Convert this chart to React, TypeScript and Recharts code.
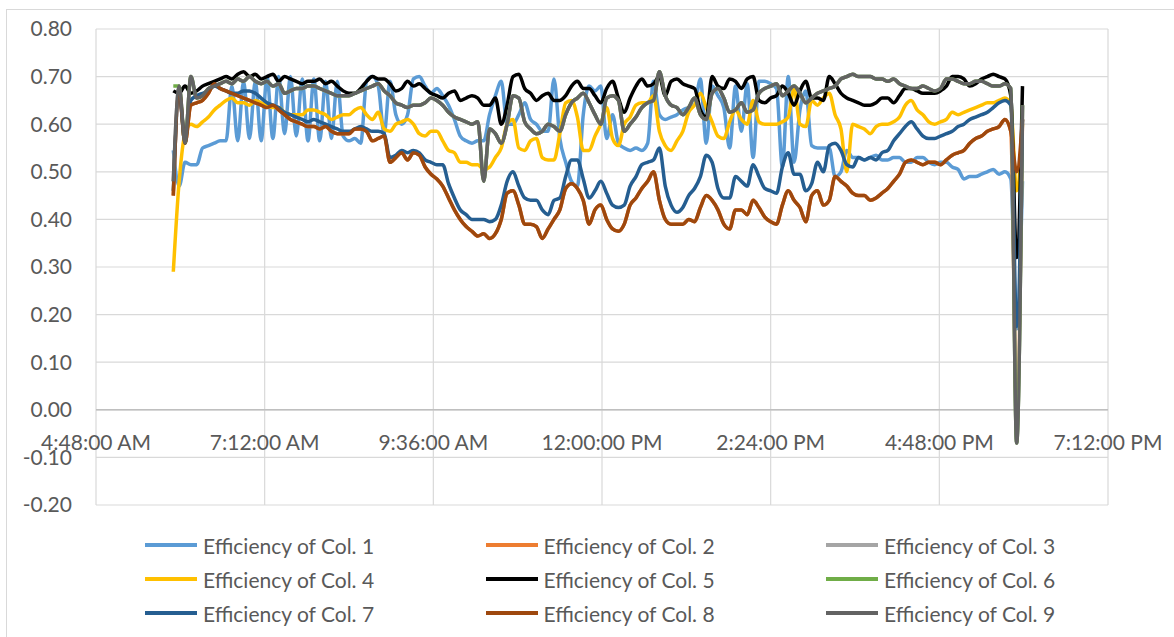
import React from 'react';
import { LineChart, Line, XAxis, YAxis, CartesianGrid, ReferenceLine, Legend } from 'recharts';

// sample times: minutes after midnight, one reading every 5 minutes from 5:54 AM
const START_MIN = 354;
const STEP_MIN = 5;

const col1 = [0.545,0.47,0.52,0.515,0.515,0.55,0.555,0.56,0.565,0.565,0.68,0.565,0.69,0.57,0.69,0.565,0.70,0.57,0.70,0.58,0.70,0.575,0.695,0.565,
  0.695,0.565,0.69,0.57,0.69,0.575,0.565,0.57,0.56,0.69,0.70,0.68,0.58,0.69,0.62,0.60,0.62,0.695,0.70,0.68,0.665,0.675,0.66,0.64,
  0.61,0.575,0.565,0.56,0.565,0.565,0.62,0.66,0.69,0.60,0.60,0.62,0.645,0.61,0.60,0.585,0.585,0.695,0.57,0.52,0.48,0.47,0.62,0.68,0.67,
  0.68,0.57,0.62,0.56,0.55,0.545,0.55,0.545,0.56,0.69,0.62,0.61,0.615,0.62,0.63,0.635,0.64,0.695,0.56,0.68,0.66,0.635,0.55,0.68,
  0.585,0.685,0.53,0.69,0.69,0.685,0.675,0.51,0.70,0.52,0.63,0.67,0.555,0.55,0.55,0.55,0.49,0.50,0.545,0.53,0.53,0.525,0.53,0.535,0.525,
  0.525,0.53,0.53,0.52,0.52,0.53,0.53,0.52,0.515,0.52,0.52,0.51,0.505,0.485,0.49,0.49,0.495,0.50,0.505,0.495,0.50,0.485,0.17,0.48];

const col2 = [0.45,0.67,0.56,0.64,0.645,0.65,0.665,0.685,0.675,0.67,0.665,0.66,0.655,0.65,0.645,0.64,0.635,0.64,0.63,0.62,0.61,0.605,0.60,0.595,
  0.595,0.59,0.595,0.585,0.58,0.58,0.58,0.59,0.59,0.585,0.565,0.57,0.575,0.52,0.53,0.54,0.525,0.54,0.535,0.51,0.495,0.485,0.47,0.445,
  0.42,0.40,0.385,0.375,0.365,0.37,0.36,0.37,0.40,0.455,0.46,0.43,0.39,0.39,0.385,0.36,0.38,0.40,0.42,0.465,0.475,0.465,0.44,0.39,0.42,
  0.43,0.40,0.38,0.375,0.39,0.43,0.445,0.465,0.48,0.50,0.44,0.40,0.39,0.39,0.39,0.40,0.395,0.425,0.45,0.44,0.42,0.39,0.38,0.42,
  0.42,0.41,0.44,0.425,0.405,0.395,0.39,0.43,0.46,0.44,0.425,0.395,0.45,0.46,0.43,0.44,0.49,0.48,0.47,0.455,0.45,0.45,0.44,0.445,0.455,
  0.465,0.48,0.495,0.52,0.525,0.52,0.515,0.52,0.52,0.515,0.525,0.535,0.54,0.545,0.56,0.57,0.575,0.585,0.59,0.595,0.61,0.585,0.0,0.61];

const col3 = [0.48,0.68,0.56,0.70,0.655,0.66,0.675,0.68,0.685,0.69,0.685,0.695,0.69,0.70,0.69,0.685,0.69,0.68,0.685,0.665,0.67,0.675,0.675,0.68,
  0.68,0.675,0.67,0.665,0.66,0.66,0.66,0.665,0.67,0.675,0.68,0.685,0.67,0.66,0.645,0.64,0.635,0.64,0.64,0.645,0.655,0.65,0.64,0.625,
  0.615,0.61,0.605,0.60,0.605,0.48,0.59,0.58,0.56,0.60,0.66,0.655,0.605,0.59,0.58,0.585,0.60,0.595,0.585,0.62,0.645,0.655,0.665,0.645,0.62,
  0.60,0.655,0.66,0.65,0.585,0.60,0.615,0.635,0.645,0.65,0.71,0.66,0.64,0.635,0.62,0.635,0.655,0.62,0.61,0.665,0.675,0.655,0.625,0.63,
  0.645,0.625,0.63,0.665,0.675,0.68,0.685,0.66,0.67,0.68,0.665,0.645,0.655,0.665,0.67,0.675,0.68,0.695,0.70,0.705,0.70,0.70,0.70,0.695,0.695,
  0.69,0.695,0.685,0.68,0.675,0.675,0.68,0.675,0.67,0.675,0.695,0.695,0.69,0.685,0.685,0.69,0.69,0.685,0.68,0.68,0.685,0.675,-0.07,0.64];

const col4 = [0.29,0.48,0.58,0.60,0.595,0.605,0.615,0.63,0.64,0.65,0.655,0.645,0.645,0.64,0.65,0.645,0.64,0.635,0.635,0.625,0.62,0.62,0.62,0.63,
  0.63,0.625,0.62,0.61,0.615,0.62,0.62,0.63,0.635,0.62,0.61,0.625,0.59,0.585,0.60,0.605,0.61,0.60,0.58,0.575,0.585,0.585,0.565,0.545,
  0.54,0.52,0.52,0.515,0.515,0.505,0.51,0.53,0.55,0.60,0.61,0.55,0.545,0.565,0.57,0.53,0.525,0.525,0.58,0.645,0.65,0.615,0.545,0.545,0.575,
  0.60,0.635,0.57,0.555,0.60,0.615,0.64,0.645,0.645,0.66,0.585,0.555,0.545,0.565,0.585,0.625,0.64,0.665,0.635,0.605,0.575,0.57,0.605,0.63,
  0.61,0.60,0.65,0.605,0.60,0.60,0.60,0.605,0.615,0.675,0.60,0.595,0.65,0.64,0.655,0.665,0.62,0.59,0.50,0.60,0.595,0.59,0.58,0.595,0.60,
  0.60,0.605,0.615,0.64,0.65,0.63,0.62,0.605,0.60,0.605,0.61,0.625,0.62,0.625,0.63,0.635,0.64,0.645,0.645,0.65,0.655,0.64,0.46,0.60];

const col5 = [0.67,0.665,0.68,0.665,0.67,0.68,0.685,0.69,0.695,0.70,0.695,0.705,0.71,0.70,0.705,0.695,0.70,0.705,0.69,0.70,0.695,0.69,0.685,0.69,
  0.69,0.695,0.685,0.69,0.68,0.67,0.665,0.665,0.675,0.69,0.70,0.695,0.695,0.685,0.67,0.675,0.69,0.68,0.685,0.675,0.665,0.66,0.655,0.665,
  0.67,0.65,0.655,0.66,0.655,0.64,0.64,0.655,0.60,0.64,0.70,0.705,0.675,0.665,0.65,0.66,0.665,0.65,0.65,0.66,0.68,0.69,0.675,0.675,0.66,
  0.645,0.675,0.69,0.655,0.625,0.655,0.68,0.695,0.68,0.685,0.70,0.66,0.69,0.695,0.685,0.68,0.675,0.63,0.615,0.70,0.68,0.675,0.695,0.69,
  0.675,0.695,0.70,0.65,0.645,0.655,0.66,0.68,0.665,0.64,0.67,0.69,0.655,0.655,0.65,0.70,0.685,0.665,0.655,0.65,0.645,0.64,0.64,0.645,0.655,
  0.655,0.645,0.66,0.675,0.675,0.67,0.665,0.665,0.665,0.67,0.68,0.70,0.70,0.695,0.68,0.685,0.695,0.70,0.705,0.70,0.695,0.66,0.32,0.68];

const col6 = [0.68,0.68,0.56,0.70,0.655,0.66,0.675,0.68,0.685,0.69,0.685,0.695,0.69,0.70,0.69,0.685,0.69,0.68,0.685,0.665,0.67,0.675,0.675,0.68,
  0.68,0.675,0.67,0.665,0.66,0.66,0.66,0.665,0.67,0.675,0.68,0.685,0.67,0.66,0.645,0.64,0.635,0.64,0.64,0.645,0.655,0.65,0.64,0.625,
  0.615,0.61,0.605,0.60,0.605,0.48,0.59,0.58,0.56,0.60,0.66,0.655,0.605,0.59,0.58,0.585,0.60,0.595,0.585,0.62,0.645,0.655,0.665,0.645,0.62,
  0.60,0.655,0.66,0.65,0.585,0.60,0.615,0.635,0.645,0.65,0.71,0.66,0.64,0.635,0.62,0.635,0.655,0.62,0.61,0.665,0.675,0.655,0.625,0.63,
  0.645,0.625,0.63,0.665,0.675,0.68,0.685,0.66,0.67,0.68,0.665,0.645,0.655,0.665,0.67,0.675,0.68,0.695,0.70,0.705,0.70,0.70,0.70,0.695,0.695,
  0.69,0.695,0.685,0.68,0.675,0.675,0.68,0.675,0.67,0.675,0.695,0.695,0.69,0.685,0.685,0.69,0.69,0.685,0.68,0.68,0.685,0.675,-0.07,0.64];

const col7 = [0.46,0.66,0.57,0.65,0.66,0.665,0.67,0.68,0.675,0.67,0.665,0.665,0.67,0.67,0.665,0.655,0.645,0.64,0.635,0.625,0.62,0.615,0.61,0.605,
  0.61,0.605,0.60,0.595,0.59,0.585,0.585,0.59,0.595,0.59,0.585,0.585,0.58,0.53,0.535,0.545,0.54,0.545,0.54,0.525,0.52,0.515,0.515,0.475,
  0.445,0.42,0.41,0.40,0.40,0.40,0.395,0.40,0.43,0.48,0.50,0.47,0.445,0.44,0.44,0.42,0.41,0.44,0.445,0.49,0.525,0.525,0.485,0.445,0.46,
  0.48,0.455,0.43,0.425,0.43,0.47,0.49,0.515,0.52,0.525,0.55,0.47,0.43,0.415,0.425,0.45,0.465,0.49,0.535,0.52,0.465,0.445,0.445,0.49,
  0.48,0.47,0.515,0.49,0.465,0.46,0.455,0.51,0.54,0.495,0.495,0.46,0.475,0.52,0.50,0.555,0.56,0.545,0.515,0.51,0.53,0.525,0.53,0.525,0.54,
  0.545,0.565,0.58,0.595,0.605,0.59,0.575,0.57,0.57,0.575,0.58,0.585,0.595,0.60,0.61,0.615,0.62,0.625,0.635,0.645,0.65,0.64,0.175,0.61];

const col8 = [0.45,0.67,0.56,0.64,0.645,0.65,0.665,0.685,0.675,0.67,0.665,0.66,0.655,0.65,0.645,0.64,0.635,0.64,0.63,0.62,0.61,0.605,0.60,0.595,
  0.595,0.59,0.595,0.585,0.58,0.58,0.58,0.59,0.59,0.585,0.565,0.57,0.575,0.52,0.53,0.54,0.525,0.54,0.535,0.51,0.495,0.485,0.47,0.445,
  0.42,0.40,0.385,0.375,0.365,0.37,0.36,0.37,0.40,0.455,0.46,0.43,0.39,0.39,0.385,0.36,0.38,0.40,0.42,0.465,0.475,0.465,0.44,0.39,0.42,
  0.43,0.40,0.38,0.375,0.39,0.43,0.445,0.465,0.48,0.50,0.44,0.40,0.39,0.39,0.39,0.40,0.395,0.425,0.45,0.44,0.42,0.39,0.38,0.42,
  0.42,0.41,0.44,0.425,0.405,0.395,0.39,0.43,0.46,0.44,0.425,0.395,0.45,0.46,0.43,0.44,0.49,0.48,0.47,0.455,0.45,0.45,0.44,0.445,0.455,
  0.465,0.48,0.495,0.52,0.525,0.52,0.515,0.52,0.52,0.515,0.525,0.535,0.54,0.545,0.56,0.57,0.575,0.585,0.59,0.595,0.61,0.585,0.50,0.61];

const col9 = [0.48,0.68,0.56,0.70,0.655,0.66,0.675,0.68,0.685,0.69,0.685,0.695,0.69,0.70,0.69,0.685,0.69,0.68,0.685,0.665,0.67,0.675,0.675,0.68,
  0.68,0.675,0.67,0.665,0.66,0.66,0.66,0.665,0.67,0.675,0.68,0.685,0.67,0.66,0.645,0.64,0.635,0.64,0.64,0.645,0.655,0.65,0.64,0.625,
  0.615,0.61,0.605,0.60,0.605,0.48,0.59,0.58,0.56,0.60,0.66,0.655,0.605,0.59,0.58,0.585,0.60,0.595,0.585,0.62,0.645,0.655,0.665,0.645,0.62,
  0.60,0.655,0.66,0.65,0.585,0.60,0.615,0.635,0.645,0.65,0.71,0.66,0.64,0.635,0.62,0.635,0.655,0.62,0.61,0.665,0.675,0.655,0.625,0.63,
  0.645,0.625,0.63,0.665,0.675,0.68,0.685,0.66,0.67,0.68,0.665,0.645,0.655,0.665,0.67,0.675,0.68,0.695,0.70,0.705,0.70,0.70,0.70,0.695,0.695,
  0.69,0.695,0.685,0.68,0.675,0.675,0.68,0.675,0.67,0.675,0.695,0.695,0.69,0.685,0.685,0.69,0.69,0.685,0.68,0.68,0.685,0.675,-0.07,0.64];

const seriesNames = ['Efficiency of Col. 1', 'Efficiency of Col. 2', 'Efficiency of Col. 3', 'Efficiency of Col. 4', 'Efficiency of Col. 5',
  'Efficiency of Col. 6', 'Efficiency of Col. 7', 'Efficiency of Col. 8', 'Efficiency of Col. 9'];
const seriesValues = [col1, col2, col3, col4, col5, col6, col7, col8, col9];
const COLORS = ['#5B9BD5', '#ED7D31', '#A5A5A5', '#FFC000', '#000000', '#70AD47', '#255E91', '#9E480E', '#636363'];

const xTicks = [288, 432, 576, 720, 864, 1008, 1152];
const yTicks = [-0.2, -0.1, 0, 0.1, 0.2, 0.3, 0.4, 0.5, 0.6, 0.7, 0.8];

const data = col1.map((_, i) => {
  const row: Record<string, number> = { t: START_MIN + i * STEP_MIN };
  seriesValues.forEach((vals, k) => { row[`c${k + 1}`] = vals[i]; });
  return row;
});

const W = 1174;
const H = 637;
const PLOT_TOP = 29;
const PLOT_BOTTOM = 505;
const X_AXIS_H = 20;
const FONT = 'Lato, "Noto Sans", sans-serif';
const TEXT = '#595959';
const FS = 21;

// x labels sit just under the 0.00 line, like Excel's "axis crosses at 0"
const zeroY = PLOT_TOP + (PLOT_BOTTOM - PLOT_TOP) * (0.8 / 1.0);

const fmtTime = (m: number) => {
  const h24 = Math.floor(m / 60);
  const mm = m % 60;
  const h = h24 % 12 === 0 ? 12 : h24 % 12;
  return `${h}:${String(mm).padStart(2, '0')}:00 ${h24 >= 12 ? 'PM' : 'AM'}`;
};

const renderXTick = (props: any) => {
  const { x, payload } = props;
  return <text x={x} y={zeroY + 32} textAnchor="middle" dominantBaseline="central" fill={TEXT} fontSize={FS} fontFamily={FONT}>
      {fmtTime(payload.value)}
    </text>;
};

const LegendGrid = () => <div style={{
  display: 'grid',
  gridTemplateColumns: 'repeat(3, 340.5px)',
  gridAutoRows: '34px',
  fontFamily: FONT,
  fontSize: FS,
  color: TEXT
}}>
    {seriesNames.map((name, i) => <div key={name} style={{ display: 'flex', alignItems: 'center', whiteSpace: 'nowrap' }}>
        <span style={{ display: 'inline-block', width: 52, height: 3.5, background: COLORS[i], marginRight: 6 }} />
        <span>{name}</span>
      </div>)}
  </div>;

const App = () => {
  return <div style={{ position: 'absolute', left: 0, top: 0, width: W, height: H, overflow: 'hidden', background: '#fff' }}>
      <div style={{ position: 'absolute', left: 6, top: 9, width: 1300, height: 800, border: '1px solid #d9d9d9' }} />
      <div style={{ position: 'absolute', left: 0, top: 0 }}>
        <LineChart width={W} height={H} data={data} margin={{ top: PLOT_TOP, right: 66, left: 36, bottom: H - PLOT_BOTTOM - X_AXIS_H }}>
          <CartesianGrid stroke="#d9d9d9" strokeWidth={1.2} />
          <XAxis dataKey="t" type="number" domain={[288, 1152]} ticks={xTicks} height={X_AXIS_H} axisLine={false} tickLine={false}
            tick={renderXTick} interval={0} />
          <YAxis type="number" domain={[-0.2, 0.8]} ticks={yTicks} width={60} axisLine={false} tickLine={false} tickSize={0} tickMargin={24}
            tickFormatter={(v: number) => v.toFixed(2)} tick={{ fill: TEXT, fontSize: FS, fontFamily: FONT }} interval={0} />
          <ReferenceLine y={0} stroke="#bfbfbf" strokeWidth={1.5} />
          {seriesNames.map((name, i) => <Line key={name} dataKey={`c${i + 1}`} name={name} type="monotone" stroke={COLORS[i]} strokeWidth={3.5}
              dot={false} activeDot={false} isAnimationActive={false} strokeLinejoin="round" />)}
          <Legend layout="vertical" align="center" verticalAlign="middle" content={<LegendGrid />}
            wrapperStyle={{ position: 'absolute', left: 145, top: 528, width: 1030 }} />
        </LineChart>
      </div>
    </div>;
};

export default App;
